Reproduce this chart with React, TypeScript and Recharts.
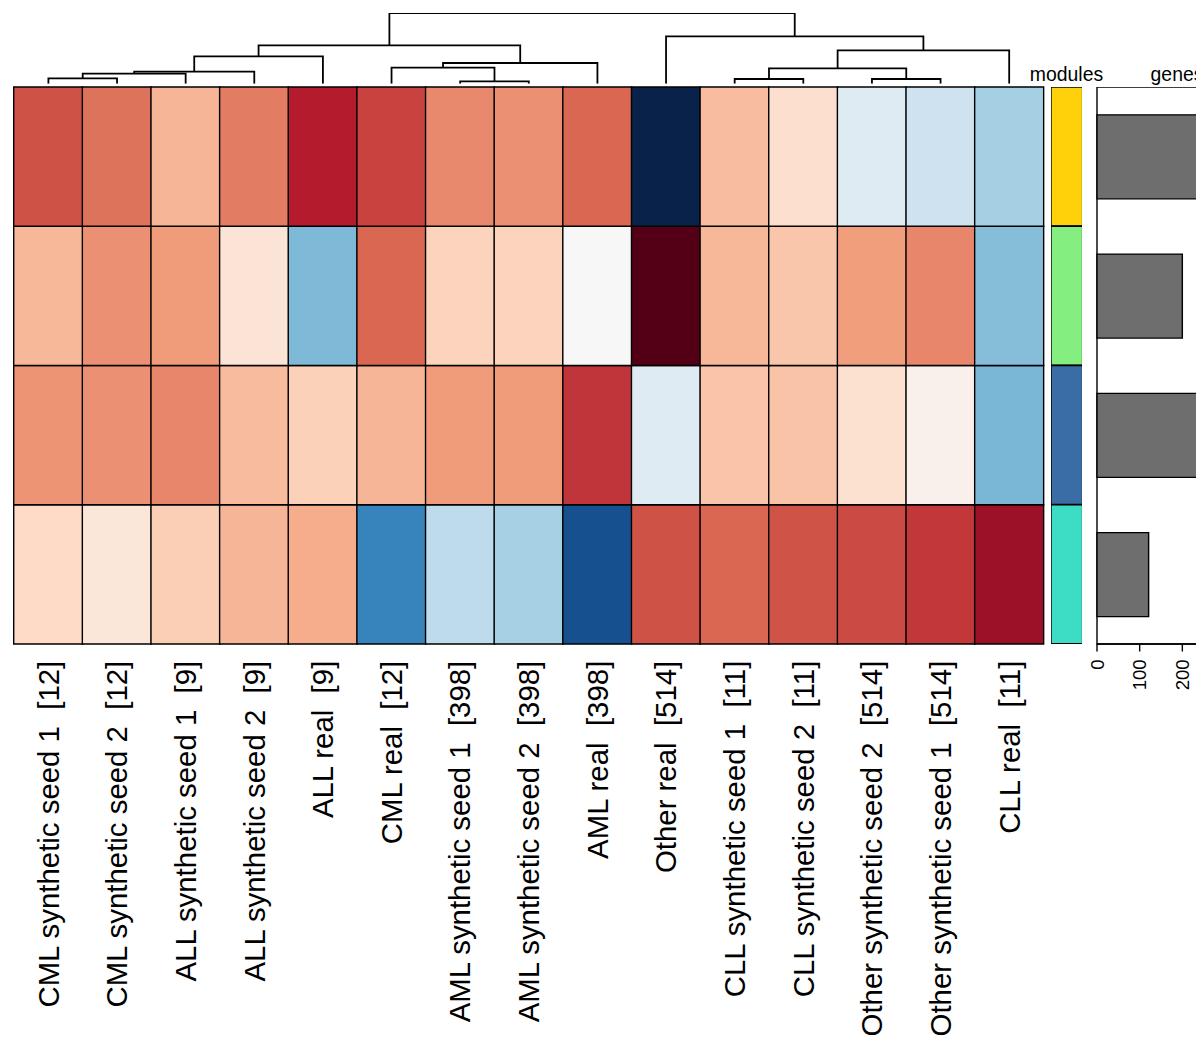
import { BarChart, Bar, Cell, XAxis, YAxis, ScatterChart, Scatter, ReferenceArea } from 'recharts';

const FONT = '"Liberation Sans", Arial, Helvetica, sans-serif';

const SAMPLES = [
  'CML synthetic seed 1',
  'CML synthetic seed 2',
  'ALL synthetic seed 1',
  'ALL synthetic seed 2',
  'ALL real',
  'CML real',
  'AML synthetic seed 1',
  'AML synthetic seed 2',
  'AML real',
  'Other real',
  'CLL synthetic seed 1',
  'CLL synthetic seed 2',
  'Other synthetic seed 2',
  'Other synthetic seed 1',
  'CLL real',
];
const SAMPLE_SIZES = [12, 12, 9, 9, 9, 12, 398, 398, 398, 514, 11, 11, 514, 514, 11];

const MODULES = ['gold', 'lightgreen', 'steelblue', 'turquoise'];
const GENES = [357, 200, 330, 121];

// module eigengene values per sample (heatmap rows)
const GOLD = [0.64, 0.545, 0.34, 0.52, 0.79, 0.68, 0.48, 0.46, 0.58, -1.2, 0.31, 0.17, -0.13, -0.21, -0.34];
const LIGHTGREEN = [0.33, 0.46, 0.43, 0.14, -0.45, 0.58, 0.226, 0.23, 0, 1.2, 0.33, 0.28, 0.42, 0.49, -0.43];
const STEELBLUE = [0.45, 0.46, 0.49, 0.32, 0.237, 0.34, 0.43, 0.43, 0.72, -0.13, 0.285, 0.29, 0.16, 0.05, -0.46];
const TURQUOISE = [0.2, 0.12, 0.25, 0.34, 0.37, -0.67, -0.26, -0.33, -0.88, 0.64, 0.58, 0.635, 0.66, 0.71, 0.86];

// column dendrogram, hclust style: negative = leaf column (1-based), positive = earlier merge
const MERGE_LEFT = [-1, -7, -11, -13, 1, 5, -6, 3, 6, 7, 8, 9, -10, 12];
const MERGE_RIGHT = [-2, -8, -12, -14, -3, -4, 2, 4, -5, -9, -15, 10, 11, 13];
const MERGE_HEIGHT = [0.075, 0.033, 0.066, 0.066, 0.141, 0.17, 0.226, 0.216, 0.386, 0.293, 0.471, 0.542, 0.669, 1];

const ROW_VALUES: Record<string, number[]> = {
  gold: GOLD,
  lightgreen: LIGHTGREEN,
  steelblue: STEELBLUE,
  turquoise: TURQUOISE,
};

const MODULE_COLORS: Record<string, string> = {
  gold: '#ffd10a',
  lightgreen: '#84ee80',
  steelblue: '#3a6ca6',
  turquoise: '#3ddcc5',
};

const COLOR_STOPS: [number, string][] = [
  [-1.2, '#08224a'],
  [-1, '#053061'],
  [-0.8, '#2166ac'],
  [-0.6, '#4393c3'],
  [-0.4, '#92c5de'],
  [-0.2, '#d1e5f0'],
  [0, '#f7f7f7'],
  [0.2, '#fddbc7'],
  [0.4, '#f4a582'],
  [0.6, '#d6604d'],
  [0.8, '#b2182b'],
  [1, '#67001f'],
  [1.2, '#530016'],
];

const hexToRgb = (h: string) => [1, 3, 5].map((i) => parseInt(h.slice(i, i + 2), 16));

function heatColor(v: number) {
  if (v <= COLOR_STOPS[0][0]) return COLOR_STOPS[0][1];
  for (let i = 1; i < COLOR_STOPS.length; i++) {
    const [v1, c1] = COLOR_STOPS[i];
    if (v <= v1) {
      const [v0, c0] = COLOR_STOPS[i - 1];
      const t = (v - v0) / (v1 - v0);
      const a = hexToRgb(c0);
      const b = hexToRgb(c1);
      const rgb = a.map((x, k) => Math.round(x + (b[k] - x) * t));
      return `rgb(${rgb.join(',')})`;
    }
  }
  return COLOR_STOPS[COLOR_STOPS.length - 1][1];
}

const heatData = SAMPLES.map((s, i) => ({
  label: `${s}\u00a0\u00a0[${SAMPLE_SIZES[i]}]`,
  gold: 1,
  lightgreen: 1,
  steelblue: 1,
  turquoise: 1,
}));

const moduleData = MODULES.map((m, i) => ({ module: m, one: 1, genes: GENES[i] }));

// dendrogram links (one U-shaped polyline per merge) built from the merge table
const nodeX: number[] = [];
const posOf = (id: number) => (id < 0 ? -id - 0.5 : nodeX[id - 1]);
const heightOf = (id: number) => (id < 0 ? 0 : MERGE_HEIGHT[id - 1]);
const dendroLinks = MERGE_LEFT.map((l, k) => {
  const r = MERGE_RIGHT[k];
  const h = MERGE_HEIGHT[k];
  const xl = posOf(l);
  const xr = posOf(r);
  nodeX[k] = (xl + xr) / 2;
  return [
    { x: xl, y: heightOf(l) },
    { x: xl, y: h },
    { x: xr, y: h },
    { x: xr, y: heightOf(r) },
  ];
});

const NoDot = () => null;

const SampleTick = ({ x, y, payload }: any) => (
  <text
    transform={`translate(${x},${y + 16.7}) rotate(-90)`}
    textAnchor="end"
    dy="0.36em"
    fontSize={29.4}
    fontFamily={FONT}
    fill="#000"
  >
    {payload.value}
  </text>
);

const GeneTick = ({ x, y, payload }: any) => (
  <text
    transform={`translate(${x},${y + 7.8}) rotate(-90)`}
    textAnchor="end"
    dy="0.36em"
    fontSize={18.6}
    fontFamily={FONT}
    fill="#000"
  >
    {payload.value}
  </text>
);

const STACK_ORDER = ['turquoise', 'steelblue', 'lightgreen', 'gold'];

export default function App() {
  return (
    <div
      style={{
        position: 'absolute',
        left: 0,
        top: 0,
        width: 1196,
        height: 1053,
        overflow: 'hidden',
        background: '#fff',
        fontFamily: FONT,
      }}
    >
      {/* column dendrogram */}
      <div style={{ position: 'absolute', left: 13.7, top: 13.3 }}>
        <ScatterChart width={1029.6} height={70.7} margin={{ top: 0, right: 0, bottom: 0, left: 0 }}>
          <XAxis type="number" dataKey="x" domain={[0, 15]} hide allowDataOverflow />
          <YAxis type="number" dataKey="y" domain={[0, 1]} hide allowDataOverflow />
          {dendroLinks.map((pts, i) => (
            <Scatter
              key={i}
              data={pts}
              line={{ stroke: '#000', strokeWidth: 1.8 }}
              lineType="joint"
              shape={<NoDot />}
              isAnimationActive={false}
            />
          ))}
        </ScatterChart>
      </div>

      {/* heatmap */}
      <div style={{ position: 'absolute', left: 0, top: 0 }}>
        <BarChart
          width={1050}
          height={1053}
          data={heatData}
          barCategoryGap={0}
          barGap={0}
          margin={{ top: 87, right: 6.7, bottom: 0, left: 13.7 }}
        >
          <XAxis
            dataKey="label"
            type="category"
            interval={0}
            height={409}
            tickSize={0}
            tickMargin={0}
            tickLine={false}
            axisLine={false}
            tick={<SampleTick />}
          />
          <YAxis type="number" domain={[0, 4]} hide />
          {STACK_ORDER.map((m) => (
            <Bar key={m} dataKey={m} stackId="h" stroke="#000" strokeWidth={1.4} isAnimationActive={false}>
              {ROW_VALUES[m].map((v, i) => (
                <Cell key={i} fill={heatColor(v)} />
              ))}
            </Bar>
          ))}
        </BarChart>
      </div>

      {/* module annotation */}
      <div style={{ position: 'absolute', left: 1050.7, top: 87 }}>
        <BarChart
          width={31.6}
          height={557}
          layout="vertical"
          data={moduleData}
          barCategoryGap={0}
          margin={{ top: 0, right: 0, bottom: 0, left: 0 }}
        >
          <XAxis type="number" domain={[0, 1]} hide />
          <YAxis type="category" dataKey="module" hide />
          <Bar dataKey="one" stroke="#000" strokeWidth={1.4} isAnimationActive={false}>
            {moduleData.map((d) => (
              <Cell key={d.module} fill={MODULE_COLORS[d.module]} />
            ))}
          </Bar>
        </BarChart>
      </div>

      {/* genes per module */}
      <div style={{ position: 'absolute', left: 1076.7, top: 87 }}>
        <BarChart
          width={180}
          height={620}
          layout="vertical"
          data={moduleData}
          barCategoryGap="20%"
          margin={{ top: 0, right: 0, bottom: 0, left: 20 }}
        >
          <XAxis
            type="number"
            domain={[0, 375]}
            ticks={[0, 100, 200, 300]}
            interval={0}
            height={63}
            tickSize={7.5}
            tickMargin={0}
            axisLine={{ stroke: '#000', strokeWidth: 1.4 }}
            tickLine={{ stroke: '#000', strokeWidth: 1.4 }}
            tick={<GeneTick />}
          />
          <YAxis type="category" dataKey="module" hide />
          <ReferenceArea x1={0} x2={375} fill="none" stroke="#000" strokeWidth={1.4} ifOverflow="visible" />
          <Bar dataKey="genes" fill="#6e6e6e" stroke="#000" strokeWidth={1.4} isAnimationActive={false} />
        </BarChart>
      </div>

      {/* annotation titles */}
      <svg width={1196} height={90} style={{ position: 'absolute', left: 0, top: 0 }}>
        <text x={1066.5} y={81} textAnchor="middle" fontSize={19.4} fontFamily={FONT} fill="#000">
          modules
        </text>
        <text x={1177} y={81} textAnchor="middle" fontSize={19.4} fontFamily={FONT} fill="#000">
          genes
        </text>
      </svg>
    </div>
  );
}
